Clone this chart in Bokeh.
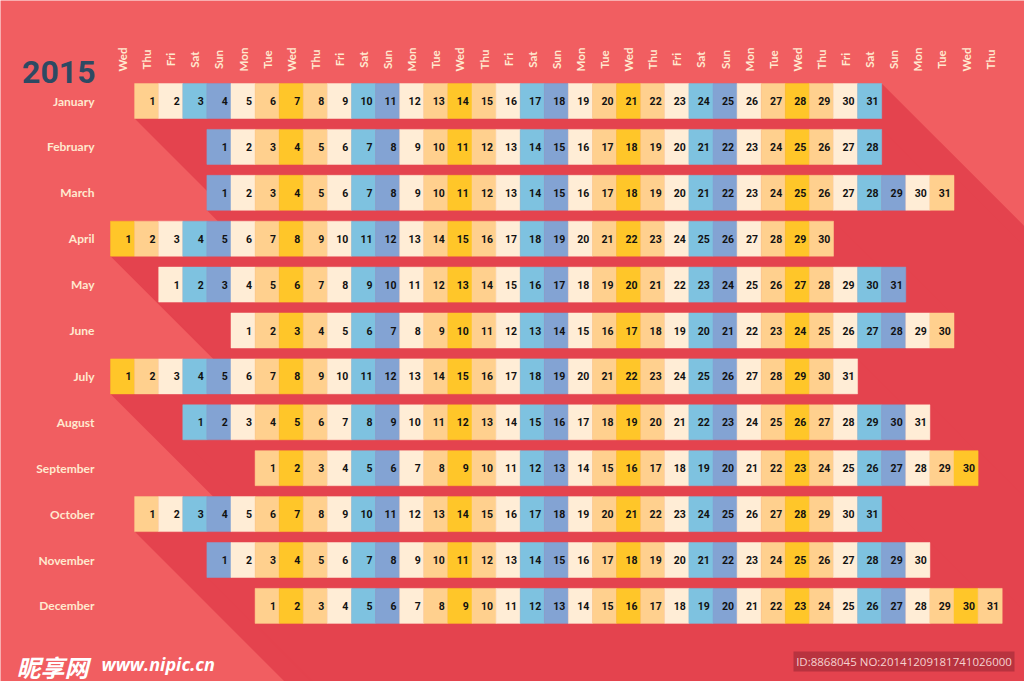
from bokeh.plotting import figure
from bokeh.models import Range1d, Label, BoxAnnotation, ColumnDataSource
from bokeh.embed import file_html
from bokeh.resources import INLINE
from bokeh.core.properties import value

# ---------------- data ----------------
YEAR = "2015"
MONTHS = ["January", "February", "March", "April", "May", "June",
          "July", "August", "September", "October", "November", "December"]
DAYS_IN_MONTH = [31, 28, 31, 30, 31, 30, 31, 31, 30, 31, 30, 31]
# column (0 = Wednesday) of the 1st of each month
FIRST_COL = [1, 4, 4, 0, 2, 5, 0, 3, 6, 1, 4, 6]
WEEKDAYS = ["Wed", "Thu", "Fri", "Sat", "Sun", "Mon", "Tue"]
N_COLS = 37
WEEKDAY_COLORS = ["#FFC629", "#FFD08E", "#FFEDD6", "#7EC2E0",
                  "#83A3D3", "#FFEDD6", "#FFD08E"]

BG = "#F15E61"
SHADOW = "#E4434E"
CREAM = "#FFE9CF"
NAVY = "#2D4A63"

# ---------------- geometry (pixel scale) ----------------
W, H = 1024, 681
OFF = 0            # page offset of the figure
COL_PX = 24.1
ROW_PX = 45.9
X0_REF = 110.0     # left edge of column 0 (reference px)
Y0_REF = 100.5     # centre of January row (reference px)
CELL_H = 35.0 / ROW_PX


def px(xr):
    return (xr - X0_REF) / COL_PX


def py(yr):
    return (yr - Y0_REF) / ROW_PX


p = figure(width=W, height=H, output_backend="svg", toolbar_location=None,
           x_range=Range1d(px(OFF), px(OFF + W)), y_range=Range1d(py(OFF + H), py(OFF)),
           min_border=0, min_border_left=0, min_border_right=0,
           min_border_top=0, min_border_bottom=0,
           x_axis_type=None, y_axis_type=None)
p.background_fill_color = BG
p.border_fill_color = BG
p.outline_line_color = None
p.grid.visible = False

# ---------------- long shadows ----------------
L = 900.0
dx, dy = L / COL_PX, L / ROW_PX
sx, sy = [], []
for m, (fc, nd) in enumerate(zip(FIRST_COL, DAYS_IN_MONTH)):
    x0, x1 = fc, fc + nd
    yt, yb = m - CELL_H / 2, m + CELL_H / 2
    sx.append([x0, x1, x1 + dx, x1 + dx, x0 + dx, x0])
    sy.append([yt, yt, yt + dy, yb + dy, yb + dy, yb])
p.patches(sx, sy, fill_color=SHADOW, line_color=None)

# ---------------- cells ----------------
left, right, top, bottom, colors, lx, ly, labels = [], [], [], [], [], [], [], []
for m, (fc, nd) in enumerate(zip(FIRST_COL, DAYS_IN_MONTH)):
    for d in range(nd):
        c = fc + d
        left.append(c)
        right.append(c + 1)
        top.append(m - CELL_H / 2)
        bottom.append(m + CELL_H / 2)
        colors.append(WEEKDAY_COLORS[c % 7])
        lx.append(c + 1 - 0.13)
        ly.append(m)
        labels.append(str(d + 1))

cells = ColumnDataSource(dict(left=left, right=right, top=top, bottom=bottom, color=colors))
p.quad(left="left", right="right", top="top", bottom="bottom", fill_color="color",
       line_color="color", line_width=0.5, source=cells)

p.text(x=lx, y=ly, text=labels, text_align="right", text_baseline="middle",
       text_font=value("Roboto"), text_font_style="bold", text_font_size="10.5px",
       text_color="#111111")

# ---------------- month labels ----------------
p.text(x=[px(94)] * 12, y=list(range(12)), text=MONTHS, text_align="right",
       text_baseline="middle", text_font=value("Lato"), text_font_style="bold",
       text_font_size="12px", text_color=CREAM)

# ---------------- weekday header ----------------
hx = [c + 0.5 for c in range(N_COLS)]
hy = [py(59)] * N_COLS
ht = [WEEKDAYS[c % 7] for c in range(N_COLS)]
p.text(x=hx, y=hy, text=ht, angle=1.5708, text_align="center", text_baseline="middle",
       text_font=value("Lato"), text_font_style="bold", text_font_size="11.5px",
       text_color=CREAM)

# ---------------- title ----------------
p.add_layout(Label(x=px(95), y=py(71), text=YEAR, text_align="right",
                   text_baseline="alphabetic", text_font="Roboto",
                   text_font_style="bold", text_font_size="32px", text_color=NAVY))

# ---------------- watermark ----------------
p.add_layout(Label(x=px(16), y=py(666), text="昵享网", text_align="left",
                   text_baseline="alphabetic", text_font="Noto Sans CJK SC",
                   text_font_style="bold italic", text_font_size="24px",
                   text_color="#FFFFFF"))
p.add_layout(Label(x=px(101), y=py(663), text="www.nipic.cn", text_align="left",
                   text_baseline="alphabetic", text_font="Open Sans",
                   text_font_style="bold italic", text_font_size="18px",
                   text_color="#FFFFFF"))
p.add_layout(BoxAnnotation(left=px(793), right=px(1014), top=py(651), bottom=py(671),
                           fill_color="#B8333F", fill_alpha=1.0, line_color=None))
p.add_layout(Label(x=px(903.5), y=py(661), text="ID:8868045 NO:20141209181741026000",
                   text_align="center", text_baseline="middle", text_font="Open Sans",
                   text_font_size="11.5px", text_color="#F6D2D0"))

open("out.html", "w").write(file_html(p, INLINE))
